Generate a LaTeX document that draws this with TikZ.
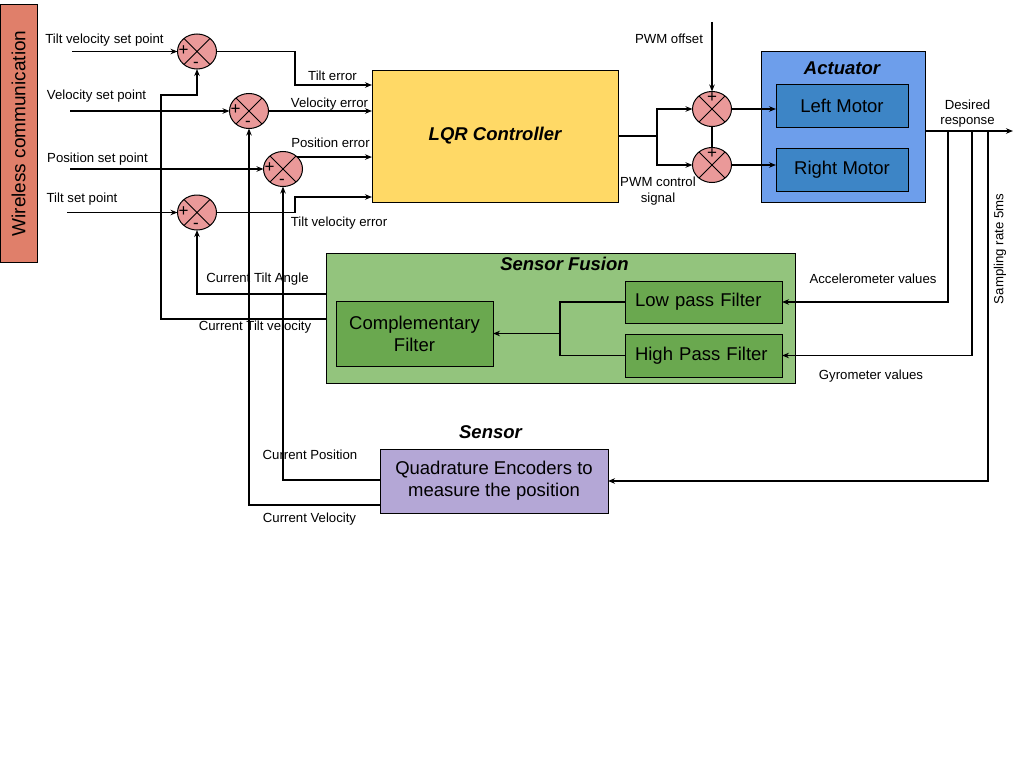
\documentclass[tikz,border=0pt]{standalone}
\usepackage{fontspec}
\setmainfont{Liberation Sans}
\usetikzlibrary{arrows.meta,shapes.geometric}
\definecolor{wirec}{HTML}{E07F6A}
\definecolor{lqrc}{HTML}{FFD966}
\definecolor{actc}{HTML}{6D9EEB}
\definecolor{motc}{HTML}{3D85C6}
\definecolor{sfc}{HTML}{93C47D}
\definecolor{filc}{HTML}{6AA84F}
\definecolor{senc}{HTML}{B4A7D6}
\definecolor{juncc}{HTML}{EA9999}
\begin{document}
\begin{tikzpicture}[x=1pt,y=-1pt,
 every node/.style={inner sep=0pt,outer sep=0pt},
 lbl/.style={font=\fontsize{13.2}{15.5}\selectfont, align=center},
 blk/.style={draw, line width=1pt, font=\fontsize{18.5}{22}\selectfont, align=center},
 ttl/.style={font=\fontsize{18.5}{22}\selectfont\bfseries\itshape},
 junc/.style={draw, ellipse, fill=juncc, minimum width=39pt, minimum height=35pt, line width=1pt},
 sgn/.style={font=\fontsize{17}{17}\selectfont},
 conn/.style={line width=1.2pt, -{Stealth[length=7pt,width=5.5pt]}},
 wire/.style={line width=1.2pt}
]
\fill[white] (0,0) rectangle (1024,768);
\useasboundingbox (0,0) rectangle (1024,768);

% blocks
\node[blk, rotate=90, fill=wirec, minimum width=257pt, minimum height=37pt, font=\fontsize{19}{22}\selectfont] (wc) at (18.5,133.5) {Wireless communication};
\node[blk, fill=lqrc, minimum width=246pt, minimum height=132pt] (lqr) at (495,136) {\bfseries\itshape LQR Controller};
\node[blk, fill=actc, minimum width=164pt, minimum height=150pt] (act) at (843,127) {};
\node[ttl] (actt) at (842,68) {Actuator};
\node[blk, fill=motc, minimum width=132pt, minimum height=43pt] (lm) at (842,105.5) {Left Motor};
\node[blk, fill=motc, minimum width=132pt, minimum height=43pt] (rm) at (842,169.5) {Right Motor};
\node[blk, fill=sfc, minimum width=469pt, minimum height=130pt] (sf) at (560.5,318) {};
\node[ttl] (sft) at (564.5,264) {Sensor Fusion};
\node[blk, fill=filc, minimum width=157pt, minimum height=65pt] (comp) at (414.5,333.5) {Complementary\\Filter};
\node[blk, fill=filc, text width=137pt, inner xsep=10pt, align=left, minimum height=42pt] (lp) at (703.5,302) {Low pass Filter};
\node[blk, fill=filc, text width=137pt, inner xsep=10pt, align=left, minimum height=43pt] (hp) at (703.5,355.5) {High Pass Filter};
\node[ttl] (sent) at (490.5,432) {Sensor};
\node[blk, fill=senc, minimum width=228pt, minimum height=64pt] (sens) at (494,481) {Quadrature Encoders to\\measure the position};

% junctions
\foreach \n/\x/\y in {s1/197/51.5, s2/249/111, s3/283/169, s4/197/212.5, p1/712/109, p2/712/165}{
  \node[junc] (\n) at (\x,\y) {};
  \draw[line width=1pt] (\n.45) -- (\n.225) (\n.135) -- (\n.315);
}
\foreach \n in {s1,s2,s3,s4}{
  \node[sgn] at ([xshift=-13.5pt,yshift=1pt]\n.center) {+};
  \node[sgn] at ([xshift=-1pt,yshift=-13pt]\n.center) {-};
}
\node[sgn] at ([yshift=11pt]p1.center) {+};
\node[sgn] at ([yshift=11pt]p2.center) {+};

% inputs
\coordinate (i1) at (72,51.5);
\coordinate (i2) at (70,111);
\coordinate (i3) at (70,169);
\coordinate (i4) at (67,212.5);
\draw[conn] (i1) -- (s1.west);
\draw[conn] (i2) -- (s2.west);
\draw[conn] (i3) -- (s3.west);
\draw[conn] (i4) -- (s4.west);

% errors to LQR
\draw[conn] (s1.east) -| (295,85) -- (lqr.west |- 0,85);
\draw[conn] (s2.east) -- (lqr.west |- s2.east);
\draw[conn] (s3.40) -- (lqr.west |- s3.40);
\draw[conn] (s4.east) -| (295,197) -- (lqr.west |- 0,197);

% feedbacks
\draw[conn] (sf.west |- 0,319) -| (161,95) -| (s1.south);
\draw[conn] (sf.west |- 0,294) -| (s4.south);
\draw[conn] (sens.west |- 0,505) -| (s2.south);
\draw[conn] (sens.west |- 0,480) -| (s3.south);

% PWM
\coordinate (br) at (657,136);
\draw[wire] (lqr.east |- br) -- (br);
\draw[conn] (br) |- (p1.west);
\draw[conn] (br) |- (p2.west);
\coordinate (pwmin) at (712,22);
\draw[conn] (pwmin) -- (p1.north);
\draw[wire] (p1.south) -- (p2.north);
\draw[conn] (p1.east) -- (lm.west |- p1.east);
\draw[conn] (p2.east) -- (rm.west |- p2.east);

% output and sensors
\coordinate (out) at (1013,131);
\coordinate (t1) at (948,131);
\coordinate (t2) at (972,131);
\coordinate (t3) at (988,131);
\draw[conn] (act.east |- out) -- (out);
\draw[conn] (t1) |- (lp.east);
\draw[conn] (t2) |- (hp.east);
\draw[conn] (t3) |- (sens.east);

% inside sensor fusion
\coordinate (mj) at (560,333.5);
\draw[wire] (lp.west) -- (lp.west -| mj) -- (hp.west -| mj) -- (hp.west);
\draw[conn] (mj) -- (comp.east);

% labels
\node[lbl] at (104.5,40) {Tilt velocity set point};
\node[lbl] at (96.5,96) {Velocity set point};
\node[lbl] at (97.5,159) {Position set point};
\node[lbl] at (82,199) {Tilt set point};
\node[lbl] at (332.5,76) {Tilt error};
\node[lbl] at (329.5,104) {Velocity error};
\node[lbl] at (330.5,143) {Position error};
\node[lbl] at (339,223) {Tilt velocity error};
\node[lbl] at (257.5,279) {Current Tilt Angle};
\node[lbl] at (255,327) {Current Tilt velocity};
\node[lbl] at (310,455) {Current Position};
\node[lbl] at (309.5,519) {Current Velocity};
\node[lbl] at (873,279) {Accelerometer values};
\node[lbl] at (871,376) {Gyrometer values};
\node[lbl] at (669,39) {PWM offset};
\node[lbl] at (658,191) {PWM control\\signal};
\node[lbl] at (967.5,113.5) {Desired\\response};
\node[lbl, rotate=90] at (1000,249) {Sampling rate 5ms};
\end{tikzpicture}
\end{document}
